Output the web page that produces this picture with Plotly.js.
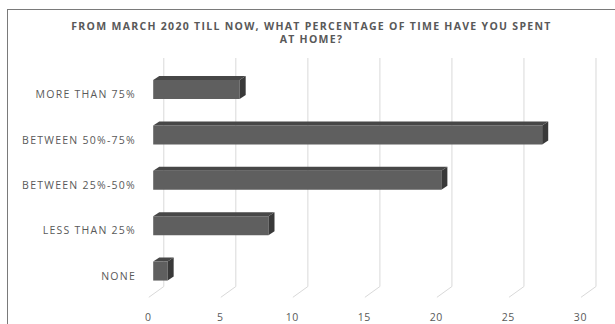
<!DOCTYPE html>
<html>
<head>
<meta charset="utf-8">
<script src="https://cdn.plot.ly/plotly-3.0.1.min.js"></script>
<style>
  html, body { margin: 0; padding: 0; background: #ffffff; overflow: hidden; }
  #wrap { position: relative; width: 615px; height: 324px; overflow: hidden; }
  #frame { position: absolute; left: 7px; top: 9px; width: 700px; height: 400px;
           border-left: 1px solid #7a7a7a; border-top: 1px solid #7a7a7a; }
  #chart { position: absolute; left: 0; top: 0; width: 615px; height: 324px; }
  #chart .ytick text { letter-spacing: 1.25px; fill: #595959 !important; }
  #chart .xtick text { letter-spacing: 0.6px; fill: #595959 !important; }
  #chart .gtitle { letter-spacing: 1.3px; }
</style>
</head>
<body>
<div id="wrap">
  <div id="frame"></div>
  <div id="chart"></div>
</div>
<script>
// Survey answers, top to bottom
const categories = ['MORE THAN 75%', 'BETWEEN 50%-75%', 'BETWEEN 25%-50%', 'LESS THAN 25%', 'NONE'];
const counts = [6, 27, 20, 8, 1];
const tickValues = [0, 5, 10, 15, 20, 25, 30];
const tickLabels = ['0', '5', '10', '15', '20', '25', '30'];

// Styling for the extruded ("3-D") bar look
const FRONT = '#5f5f5f';
const TOP = '#474747';
const SIDE = '#393939';
const TEXT = '#595959';
const GRID = '#d9d9d9';
const DEPTH_X = 0.42;   // extrusion depth along x, in data units
const HALF_H = 9.5;     // half height of the bar face, px
const LIFT = 4;         // extrusion rise, px

const shapes = [];

// Back-wall gridlines with their slanted floor segment
tickValues.forEach(function (t) {
  shapes.push({
    type: 'path', layer: 'below',
    xref: 'x', yref: 'paper',
    xsizemode: 'pixel', ysizemode: 'pixel',
    xanchor: t, yanchor: 0,
    path: 'M 10.6,242 L 10.6,13.5 L -4.4,2.7',
    line: { color: GRID, width: 1 }
  });
});

// Top and side faces of every bar
counts.forEach(function (v, i) {
  shapes.push({
    type: 'path', layer: 'above',
    xref: 'x', yref: 'y',
    ysizemode: 'pixel', yanchor: i,
    path: 'M ' + v + ',' + (-HALF_H) + ' L ' + (v + DEPTH_X) + ',' + (-HALF_H + LIFT) +
          ' L ' + (v + DEPTH_X) + ',' + (HALF_H + LIFT) + ' L ' + v + ',' + HALF_H + ' Z',
    fillcolor: SIDE, line: { width: 0 }
  });
  shapes.push({
    type: 'path', layer: 'above',
    xref: 'x', yref: 'y',
    ysizemode: 'pixel', yanchor: i,
    path: 'M 0,' + HALF_H + ' L ' + v + ',' + HALF_H + ' L ' + (v + DEPTH_X) + ',' + (HALF_H + LIFT) +
          ' L ' + DEPTH_X + ',' + (HALF_H + LIFT) + ' Z',
    fillcolor: TOP, line: { width: 0 }
  });
});

const trace = {
  type: 'bar',
  orientation: 'h',
  x: counts,
  y: categories,
  width: 0.418,
  marker: { color: FRONT, line: { width: 0 } },
  hoverinfo: 'x+y'
};

const layout = {
  width: 615,
  height: 324,
  margin: { l: 146, r: 8, t: 50, b: 24 },
  paper_bgcolor: 'rgba(0,0,0,0)',
  plot_bgcolor: 'rgba(0,0,0,0)',
  font: { family: '"Open Sans", sans-serif', color: TEXT, size: 10.5 },
  showlegend: false,
  title: {
    text: 'FROM MARCH 2020 TILL NOW, WHAT PERCENTAGE OF TIME HAVE YOU SPENT<br>AT HOME?',
    font: { family: '"Open Sans", sans-serif', size: 10.5, weight: 700, color: TEXT },
    xref: 'container', yref: 'container',
    x: 0.5065, xanchor: 'center',
    y: 1 - 29.5 / 324, yanchor: 'middle'
  },
  xaxis: {
    range: [-0.5, 31.5],
    tickvals: tickValues,
    ticktext: tickLabels,
    color: TEXT,
    showgrid: false, zeroline: false, showline: false,
    ticks: '',
    ticklabelshift: -5,
    ticklabelstandoff: 9,
    tickfont: { size: 10.5, color: TEXT },
    fixedrange: true
  },
  yaxis: {
    type: 'category',
    categoryorder: 'array',
    categoryarray: categories,
    range: [4.637, -0.870],
    color: TEXT,
    showgrid: false, zeroline: false, showline: false,
    ticks: '',
    ticklabelshift: -5,
    ticklabelstandoff: 9,
    tickfont: { size: 10.5, color: TEXT },
    fixedrange: true
  },
  shapes: shapes
};

Plotly.newPlot('chart', [trace], layout, { displayModeBar: false, staticPlot: true });
</script>
</body>
</html>
